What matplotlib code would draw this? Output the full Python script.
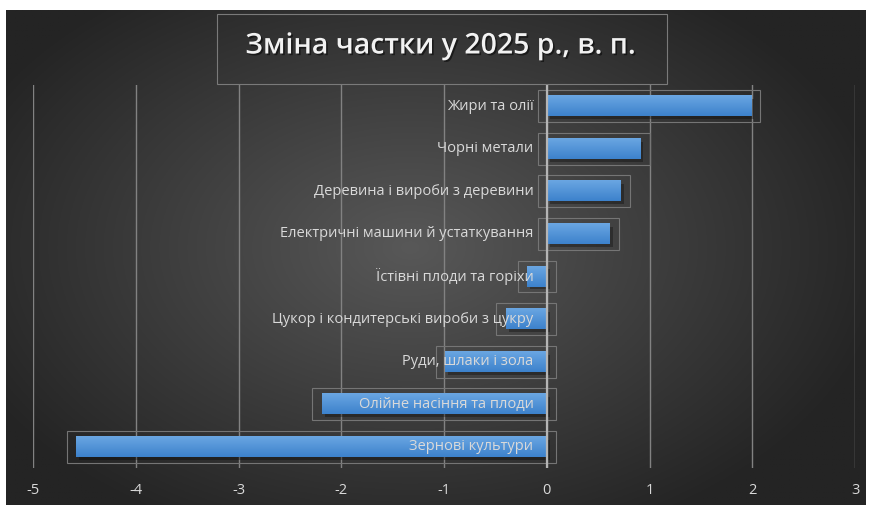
import numpy as np
import matplotlib
matplotlib.use("Agg")
import matplotlib.pyplot as plt
import matplotlib.patheffects as pe
from matplotlib.patches import Rectangle
from matplotlib.colors import LinearSegmentedColormap

plt.rcParams['font.family'] = ['Open Sans', 'DejaVu Sans']

title = "Зміна частки у 2025 р., в. п."
categories = ["Жири та олії", "Чорні метали", "Деревина і вироби з деревини",
              "Електричні машини й устаткування", "Їстівні плоди та горіхи",
              "Цукор і кондитерські вироби з цукру", "Руди, шлаки і зола",
              "Олійне насіння та плоди", "Зернові культури"]
values = [1.99, 0.91, 0.72, 0.61, -0.19, -0.40, -0.99, -2.19, -4.58]
xticks = [-5, -4, -3, -2, -1, 0, 1, 2, 3]

W, H = 869, 505
fig = plt.figure(figsize=(W / 100, H / 100), dpi=100)
fig.patch.set_facecolor("white")

# background with radial gradient
bg = fig.add_axes([6 / W, 0, 860 / W, 495 / H])
bg.set_axis_off()
yy, xx = np.mgrid[0:1:300j, 0:1:500j]
r = np.sqrt(((xx - 0.47) / 0.75) ** 2 + ((yy - 0.52) / 0.85) ** 2)
r = np.clip(r / 0.75, 0, 1)
c0 = np.array([0x58, 0x58, 0x58]) / 255
c1 = np.array([0x24, 0x24, 0x24]) / 255
img = c0[None, None, :] * (1 - r[..., None]) + c1[None, None, :] * r[..., None]
bg.imshow(img, extent=[0, 1, 0, 1], aspect="auto", origin="lower")
bg.set_xlim(0, 1)
bg.set_ylim(0, 1)

# title frame
fig.patches.append(Rectangle((217 / W, 1 - 84 / H), 450 / W, 70 / H, transform=fig.transFigure,
                             fill=False, edgecolor="#7a7a7a", lw=0.8))
fig.text(441 / W, 1 - 46 / H, title, ha="center", va="center", color="#f2f2f2",
         fontsize=20.5, fontweight="semibold",
         path_effects=[pe.withSimplePatchShadow(offset=(1.2, -1.2), shadow_rgbFace="black", alpha=0.5)])

ax = fig.add_axes([33 / W, (H - 468) / H, (855 - 33) / W, (468 - 85) / H])
ax.set_facecolor("none")
ax.patch.set_alpha(0)
for s in ax.spines.values():
    s.set_visible(False)

ax.set_xlim(-5, 3)
ax.set_ylim(len(categories) - 0.5, -0.5)
for t in xticks:
    ax.axvline(t, color="#828282", lw=1.0, zorder=1)
ax.axvline(0, color="#b5b5b5", lw=1.6, zorder=4)

ypos = np.arange(len(categories))
bh = 0.47
grad = np.linspace(0, 1, 50)[:, None]
cmap = LinearSegmentedColormap.from_list("b", ["#6aa6e2", "#3d82cc"])
for y, v in zip(ypos, values):
    x0, x1 = min(0, v), max(0, v)
    ax.add_patch(Rectangle((x0 + 0.03, y - bh / 2 + 0.07), x1 - x0, bh, color="black", alpha=0.3,
                           lw=0, zorder=2))
    ax.imshow(grad, extent=[x0, x1, y + bh / 2, y - bh / 2], cmap=cmap, aspect="auto",
              zorder=3, interpolation="bilinear")
    ax.add_patch(Rectangle((x0 - 0.09, y - bh / 2 - 0.14), (x1 - x0) + 0.18, bh + 0.28, fill=False,
                           edgecolor="#757575", lw=0.8, zorder=2))
ax.set_aspect("auto")
ax.set_xlim(-5, 3)
ax.set_ylim(len(categories) - 0.5, -0.5)

for y, c in zip(ypos, categories):
    ax.text(-0.13, y, c, ha="right", va="center", color="#d9d9d9", fontsize=10.5, zorder=5)

ax.set_yticks([])
ax.set_xticks(xticks)
ax.set_xticklabels([str(t) for t in xticks], color="#d9d9d9", fontsize=10.5)
ax.tick_params(axis="x", length=0, pad=11)

fig.savefig("out.png", dpi=100, facecolor="white")
